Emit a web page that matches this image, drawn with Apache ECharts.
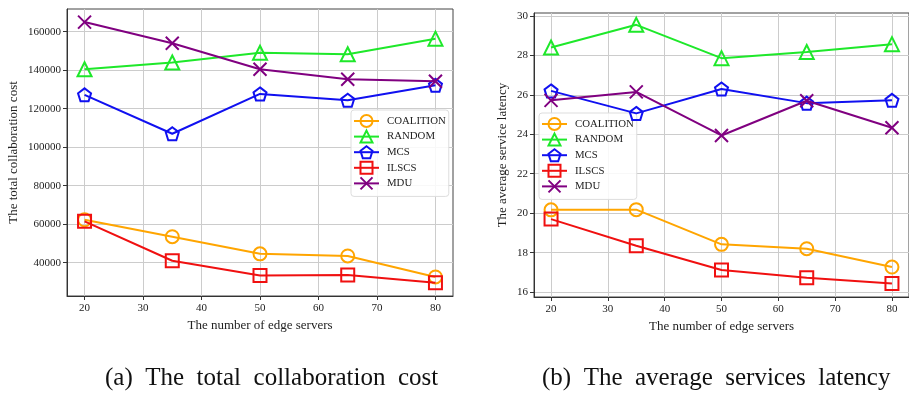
<!DOCTYPE html>
<html>
<head>
<meta charset="utf-8">
<script src="https://cdn.jsdelivr.net/npm/echarts@6/dist/echarts.min.js"></script>
<style>
html,body{margin:0;padding:0;background:#fff;}
#c{width:909px;height:394px;}
</style>
</head>
<body>
<div id="c"></div>
<script>
const xValues = [20, 35, 50, 65, 80];
const seriesNames = ['COALITION', 'RANDOM', 'MCS', 'ILSCS', 'MDU'];
const xTicks = [20, 30, 40, 50, 60, 70, 80];
const costTicks = [40000, 60000, 80000, 100000, 120000, 140000, 160000];
const latTicks = [16, 18, 20, 22, 24, 26, 28, 30];

// (a) total collaboration cost
const costCoalition = [62300, 53500, 44600, 43500, 32600];
const costRandom = [140500, 144000, 149100, 148300, 156400];
const costMCS = [127200, 107000, 127700, 124400, 132200];
const costILSCS = [61500, 41000, 33400, 33600, 29600];
const costMDU = [165000, 154000, 140500, 135300, 134300];

// (b) average service latency
const latCoalition = [20.17, 20.18, 18.42, 18.2, 17.27];
const latRandom = [28.4, 29.55, 27.86, 28.17, 28.57];
const latMCS = [26.2, 25.06, 26.3, 25.58, 25.72];
const latILSCS = [19.7, 18.35, 17.12, 16.72, 16.43];
const latMDU = [25.72, 26.15, 23.94, 25.7, 24.33];

const captionA = '(a)  The  total  collaboration  cost';
const captionB = '(b)  The  average  services  latency';

const colors = ['#ffa500', '#1ee82a', '#1010f0', '#f01010', '#800080'];
const symbols = [
  'circle',
  'triangle',
  'path://M0,-1 L0.951,-0.309 L0.588,0.809 L-0.588,0.809 L-0.951,-0.309 Z',
  'rect',
  'path://M0,0 L10,10 M10,0 L0,10'
];
const symSizes = [13, 14, 13, 13, 13];

const serif = 'Liberation Serif';

function mkSeries(name, i, data, gi) {
  return {
    name: name,
    type: 'line',
    xAxisIndex: gi, yAxisIndex: gi,
    data: xValues.map((x, k) => [x, data[k]]),
    symbol: symbols[i],
    symbolSize: symSizes[i],
    showAllSymbol: true,
    lineStyle: { color: colors[i], width: 2 },
    itemStyle: { color: 'rgba(255,255,255,0)', borderColor: colors[i], borderWidth: 2 },
    emphasis: { disabled: true },
    z: 2 + i
  };
}

const costData = [costCoalition, costRandom, costMCS, costILSCS, costMDU];
const latData = [latCoalition, latRandom, latMCS, latILSCS, latMDU];

const series = [];
seriesNames.forEach((n, i) => series.push(mkSeries(n, i, costData[i], 0)));
seriesNames.forEach((n, i) => series.push(mkSeries(n, i, latData[i], 1)));

function xAxisCfg(gi) {
  return {
    type: 'value', gridIndex: gi, min: 17, max: 83,
    axisLine: { show: true, onZero: false, lineStyle: { color: '#333', width: 1 } },
    axisTick: { show: true, length: 4, lineStyle: { color: '#333' }, customValues: xTicks },
    axisLabel: { color: '#222', fontFamily: serif, fontSize: 11, margin: 7, customValues: xTicks },
    splitLine: { show: true, lineStyle: { color: '#cccccc', width: 1 } },
    name: 'The number of edge servers', nameLocation: 'middle', nameGap: 22,
    nameTextStyle: { color: '#222', fontFamily: serif, fontSize: 13 }
  };
}

function legendCfg(left, top) {
  return {
    data: seriesNames, orient: 'vertical', left: left, top: top,
    itemWidth: 25, itemHeight: 15, itemGap: 1.6,
    backgroundColor: 'rgba(255,255,255,0.85)', borderColor: '#dddddd', borderWidth: 1, borderRadius: 3,
    padding: [4, 3, 6, 2],
    textStyle: { color: '#222', fontFamily: serif, fontSize: 10.8, padding: [0, 0, 0, 3] },
    selectedMode: false
  };
}

const option = {
  animation: false,
  backgroundColor: '#fff',
  grid: [
    { left: 67, top: 9, width: 386, height: 287, show: true, borderColor: '#444', borderWidth: 1, backgroundColor: 'transparent' },
    { left: 534, top: 13, width: 382, height: 284, show: true, borderColor: '#444', borderWidth: 1, backgroundColor: 'transparent' }
  ],
  xAxis: [xAxisCfg(0), xAxisCfg(1)],
  yAxis: [
    {
      type: 'value', gridIndex: 0, min: 22700, max: 171800,
      axisLine: { show: true, lineStyle: { color: '#333' } },
      axisTick: { show: true, length: 4, lineStyle: { color: '#333' }, customValues: costTicks },
      axisLabel: { color: '#222', fontFamily: serif, fontSize: 11, margin: 6, customValues: costTicks,
        formatter: v => String(Math.round(v)) },
      splitLine: { show: true, lineStyle: { color: '#cccccc', width: 1 } },
      name: 'The total collaboration cost', nameLocation: 'middle', nameGap: 47,
      nameTextStyle: { color: '#222', fontFamily: serif, fontSize: 13 }
    },
    {
      type: 'value', gridIndex: 1, min: 15.75, max: 30.15,
      axisLine: { show: true, lineStyle: { color: '#333' } },
      axisTick: { show: true, length: 4, lineStyle: { color: '#333' }, customValues: latTicks },
      axisLabel: { color: '#222', fontFamily: serif, fontSize: 11, margin: 6, customValues: latTicks,
        formatter: v => String(Math.round(v)) },
      splitLine: { show: true, lineStyle: { color: '#cccccc', width: 1 } },
      name: 'The average service latency', nameLocation: 'middle', nameGap: 25,
      nameTextStyle: { color: '#222', fontFamily: serif, fontSize: 13 }
    }
  ],
  legend: [legendCfg(351, 110), legendCfg(539, 113)],
  graphic: [
    { type: 'text', x: 105, y: 378, style: { text: captionA, font: '25px "Liberation Serif"', fill: '#111', textVerticalAlign: 'middle' } },
    { type: 'text', x: 542, y: 378, style: { text: captionB, font: '25px "Liberation Serif"', fill: '#111', textVerticalAlign: 'middle' } }
  ],
  series: series
};

const chart = echarts.init(document.getElementById('c'), null, { renderer: 'canvas' });
chart.setOption(option);
</script>
</body>
</html>
